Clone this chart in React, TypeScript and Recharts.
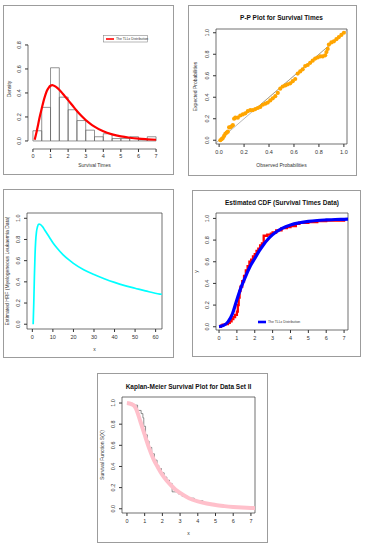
import {
  ComposedChart,
  Legend,
  Line,
  ReferenceArea,
  ReferenceLine,
  Scatter,
  XAxis,
  YAxis,
} from "recharts";

const FONT = '"Liberation Sans", Arial, Helvetica, sans-serif';
const INK = "#333";

// panel 1: histogram of survival times + fitted density
const histEdges = [0, 0.5, 1, 1.5, 2, 2.5, 3, 3.5, 4, 4.5, 5, 5.5, 6, 6.5, 7];
const histDensity = [0.085, 0.28, 0.61, 0.365, 0.26, 0.17, 0.09, 0.035, 0.06, 0.02, 0.02, 0.035, 0.01, 0.035];
const densX = [0.1, 0.2, 0.3, 0.4, 0.5, 0.6, 0.7, 0.8, 0.9, 1.0, 1.1, 1.2, 1.4, 1.6, 1.8, 2.0, 2.25, 2.5, 2.75, 3.0, 3.25, 3.5, 4.0, 4.5, 5.0, 5.5, 6.0, 6.5, 7.0];
const densY = [0.01, 0.07, 0.14, 0.21, 0.27, 0.33, 0.38, 0.42, 0.445, 0.46, 0.465, 0.46, 0.44, 0.41, 0.375, 0.34, 0.295, 0.25, 0.21, 0.175, 0.145, 0.12, 0.08, 0.055, 0.038, 0.027, 0.019, 0.014, 0.01];

// panel 2: P-P plot
const ppObs = [0.01, 0.02, 0.03, 0.04, 0.05, 0.06, 0.07, 0.08, 0.09, 0.1, 0.11, 0.12, 0.13, 0.15, 0.17, 0.19, 0.21, 0.23, 0.25, 0.27, 0.29, 0.31, 0.33, 0.35, 0.37, 0.39, 0.41, 0.43, 0.45, 0.47, 0.49, 0.51, 0.53, 0.55, 0.57, 0.59, 0.61, 0.63, 0.65, 0.67, 0.69, 0.71, 0.73, 0.75, 0.77, 0.79, 0.81, 0.83, 0.85, 0.86, 0.87, 0.88, 0.9, 0.92, 0.94, 0.96, 0.98, 1.0];
const ppExp = [0.0, 0.01, 0.02, 0.04, 0.06, 0.07, 0.08, 0.12, 0.12, 0.13, 0.14, 0.2, 0.21, 0.21, 0.23, 0.24, 0.25, 0.27, 0.28, 0.28, 0.29, 0.3, 0.31, 0.33, 0.34, 0.35, 0.37, 0.39, 0.41, 0.44, 0.48, 0.5, 0.51, 0.52, 0.53, 0.55, 0.57, 0.62, 0.64, 0.66, 0.69, 0.7, 0.72, 0.74, 0.76, 0.77, 0.78, 0.78, 0.79, 0.82, 0.85, 0.89, 0.91, 0.92, 0.94, 0.96, 0.98, 1.0];

// panel 3: estimated hazard rate
const hrfX = [0.4, 0.7, 1.0, 1.3, 1.6, 2.0, 2.5, 3.2, 4, 5, 6, 8, 10, 12, 15, 18, 20, 25, 30, 35, 40, 45, 50, 55, 62, 63];
const hrfY = [0, 0.2, 0.45, 0.65, 0.78, 0.87, 0.92, 0.945, 0.94, 0.92, 0.89, 0.83, 0.77, 0.72, 0.655, 0.605, 0.575, 0.515, 0.47, 0.43, 0.395, 0.365, 0.34, 0.315, 0.285, 0.283];

// panel 4: empirical vs fitted CDF
const ecdfX = [0, 0.1, 0.2, 0.35, 0.5, 0.6, 0.7, 0.8, 0.9, 1.0, 1.05, 1.1, 1.15, 1.2, 1.3, 1.4, 1.5, 1.6, 1.7, 1.8, 1.9, 2.0, 2.1, 2.2, 2.3, 2.4, 2.5, 2.7, 2.9, 3.0, 3.2, 3.5, 3.8, 4.0, 4.3, 4.5, 5.0, 5.5, 6.0, 7.0];
const ecdfY = [0, 0.01, 0.02, 0.025, 0.035, 0.05, 0.07, 0.09, 0.11, 0.14, 0.2, 0.27, 0.33, 0.37, 0.42, 0.47, 0.52, 0.56, 0.6, 0.62, 0.65, 0.67, 0.7, 0.72, 0.75, 0.77, 0.84, 0.85, 0.86, 0.87, 0.89, 0.91, 0.92, 0.93, 0.95, 0.96, 0.965, 0.975, 0.98, 0.985];
const cdfX = [0, 0.25, 0.5, 0.75, 1.0, 1.25, 1.5, 1.75, 2.0, 2.25, 2.5, 2.75, 3.0, 3.5, 4.0, 4.5, 5.0, 5.5, 6.0, 6.5, 7.0, 7.22];
const cdfY = [0, 0.012, 0.045, 0.12, 0.25, 0.37, 0.47, 0.56, 0.63, 0.7, 0.76, 0.81, 0.85, 0.905, 0.94, 0.96, 0.973, 0.981, 0.986, 0.99, 0.992, 0.993];

// panel 5: Kaplan-Meier vs fitted survival
const kmX = [0, 0.3, 0.6, 0.8, 0.9, 0.95, 1.05, 1.15, 1.25, 1.4, 1.55, 1.7, 1.8, 1.95, 2.1, 2.25, 2.4, 2.55, 2.9, 3.1, 3.4, 3.8, 4.3, 5.0, 5.8, 7.0];
const kmY = [1.0, 0.98, 0.93, 0.9, 0.86, 0.78, 0.7, 0.64, 0.58, 0.52, 0.46, 0.41, 0.38, 0.34, 0.3, 0.27, 0.24, 0.16, 0.14, 0.12, 0.1, 0.075, 0.05, 0.03, 0.02, 0.01];
const survX = [0, 0.25, 0.4, 0.5, 0.75, 1.0, 1.25, 1.5, 1.75, 2.0, 2.25, 2.5, 2.75, 3.0, 3.5, 4.0, 4.5, 5.0, 5.5, 6.0, 6.5, 7.0, 7.23];
const survY = [1.0, 0.99, 0.975, 0.95, 0.83, 0.7, 0.575, 0.47, 0.39, 0.32, 0.265, 0.22, 0.18, 0.15, 0.1, 0.07, 0.05, 0.035, 0.025, 0.017, 0.011, 0.007, 0.006];

// ticks
const ticks0to7 = [0, 1, 2, 3, 4, 5, 6, 7];
const ticksDensity = [0, 0.2, 0.4, 0.6, 0.8];
const ticksProb = [0, 0.2, 0.4, 0.6, 0.8, 1.0];
const ticksHrfX = [0, 10, 20, 30, 40, 50, 60];

const zip = (xs: number[], ys: number[]) => xs.map((x, i) => ({ x, y: ys[i] }));

const tickStyle = { fontSize: 5.5, fill: INK, fontFamily: FONT };

function YTick(props: any) {
  const { x, y, payload } = props;
  return (
    <text
      x={x}
      y={y}
      transform={`rotate(-90 ${x} ${y})`}
      textAnchor="middle"
      fontSize={5.5}
      fill={INK}
      fontFamily={FONT}
    >
      {Number(payload.value).toFixed(1)}
    </text>
  );
}

const yTitle = (text: string, dx: number, dy = 0) => (props: any) => {
  const vb = props.viewBox;
  const cx = vb.x + dx;
  const cy = vb.y + vb.height / 2 + dy;
  return (
    <text
      x={cx}
      y={cy}
      transform={`rotate(-90 ${cx} ${cy})`}
      textAnchor="middle"
      fontSize={5}
      fill={INK}
      fontFamily={FONT}
    >
      {text}
    </text>
  );
};

const xTitle = (value: string, offset: number) => ({
  value,
  position: "insideBottom" as const,
  offset,
  fontSize: 5,
  fill: INK,
  fontFamily: FONT,
});

const boxTitle = (value: string, offset: number) => ({
  value,
  position: "top" as const,
  offset,
  fontSize: 6.5,
  fontWeight: "bold",
  fill: "#111",
  fontFamily: FONT,
});

function Frame({ left, top, width, height, children }: any) {
  return (
    <div
      style={{
        position: "absolute",
        left,
        top,
        width,
        height,
        boxSizing: "border-box",
        border: "1px solid #9c9c9c",
        background: "#fff",
      }}
    >
      <div style={{ position: "absolute", left: -1, top: -1 }}>{children}</div>
    </div>
  );
}

const legendLine = (color: string, width: number, boxed: boolean) => () => (
  <svg width={46} height={8} style={{ display: "block" }}>
    {boxed && <rect x={0.5} y={0.5} width={44} height={6.5} fill="#fff" stroke="#888" strokeWidth={0.6} />}
    <line x1={3} x2={11} y1={4} y2={4} stroke={color} strokeWidth={width} />
    <text x={13} y={5.3} fontSize={3.4} fill={INK} fontFamily={FONT}>
      The TLLx Distribution
    </text>
  </svg>
);

function HistPanel() {
  return (
    <Frame left={3} top={5} width={171} height={170}>
      <ComposedChart width={171} height={170} margin={{ top: 36, right: 13, bottom: 0, left: 0 }}>
        <XAxis
          type="number"
          dataKey="x"
          domain={[-0.28, 7.28]}
          ticks={ticks0to7}
          interval={0}
          allowDataOverflow
          height={26}
          axisLine={false}
          tickSize={3}
          tickMargin={2}
          tick={tickStyle}
          stroke={INK}
          label={xTitle("Survival Times", 8)}
        />
        <YAxis
          type="number"
          dataKey="y"
          domain={[-0.067, 0.833]}
          ticks={ticksDensity}
          interval={0}
          allowDataOverflow
          width={25}
          axisLine={false}
          tickSize={3}
          tickMargin={4}
          tick={<YTick />}
          stroke={INK}
          label={yTitle("Density", 8, -6)}
        />
        {histDensity.map((d, i) => (
          <ReferenceArea
            key={i}
            x1={histEdges[i]}
            x2={histEdges[i + 1]}
            y1={0}
            y2={d}
            fill="#fff"
            fillOpacity={0}
            stroke="#666"
            strokeWidth={0.7}
          />
        ))}
        <ReferenceLine segment={[{ x: 0, y: -0.067 }, { x: 7, y: -0.067 }]} stroke={INK} strokeWidth={0.7} ifOverflow="visible" />
        <ReferenceLine segment={[{ x: -0.28, y: 0 }, { x: -0.28, y: 0.8 }]} stroke={INK} strokeWidth={0.7} ifOverflow="visible" />
        <Line
          data={zip(densX, densY)}
          dataKey="y"
          type="monotone"
          stroke="#ff0000"
          strokeWidth={2.2}
          dot={false}
          name="The TLLx Distribution"
          isAnimationActive={false}
        />
        <Legend
          layout="vertical"
          align="center"
          verticalAlign="middle"
          content={legendLine("#ff0000", 1.6, true)}
          wrapperStyle={{ left: 100, top: 30, width: 46, height: 8 }}
        />
      </ComposedChart>
    </Frame>
  );
}

function PPPanel() {
  const dom: [number, number] = [-0.025, 1.025];
  const ydom: [number, number] = [-0.035, 1.035];
  return (
    <Frame left={188} top={5} width={169} height={171}>
      <ComposedChart width={169} height={171} margin={{ top: 24, right: 10, bottom: 0, left: 0 }}>
        <XAxis
          type="number"
          dataKey="x"
          domain={dom}
          ticks={ticksProb}
          interval={0}
          allowDataOverflow
          height={32}
          axisLine={false}
          tickSize={3}
          tickMargin={3}
          tick={tickStyle}
          tickFormatter={(v) => v.toFixed(1)}
          stroke={INK}
          label={xTitle("Observed Probabilities", 9)}
        />
        <YAxis
          type="number"
          dataKey="y"
          domain={ydom}
          ticks={ticksProb}
          interval={0}
          allowDataOverflow
          width={28}
          axisLine={false}
          tickSize={3}
          tickMargin={4}
          tick={<YTick />}
          stroke={INK}
          label={yTitle("Expected Probabilities", 9)}
        />
        <ReferenceArea
          x1={dom[0]}
          x2={dom[1]}
          y1={ydom[0]}
          y2={ydom[1]}
          fillOpacity={0}
          stroke={INK}
          strokeWidth={0.7}
          label={boxTitle("P-P Plot for Survival Times", 9)}
        />
        <ReferenceLine segment={[{ x: -0.025, y: -0.025 }, { x: 1.025, y: 1.025 }]} stroke="#999" strokeWidth={0.7} />
        <Scatter
          data={zip(ppObs, ppExp)}
          dataKey="y"
          isAnimationActive={false}
          shape={(p: any) => <circle cx={p.cx} cy={p.cy} r={2.1} fill="#ffa500" />}
        />
        <ReferenceLine segment={[{ x: 0.3, y: 0.3 }, { x: 1.0, y: 1.0 }]} stroke="#7a5a10" strokeWidth={0.5} strokeOpacity={0.6} />
      </ComposedChart>
    </Frame>
  );
}

function HrfPanel() {
  const dom: [number, number] = [-2.6, 63.1];
  const ydom: [number, number] = [-0.045, 1.05];
  return (
    <Frame left={3} top={189} width={171} height={169}>
      <ComposedChart width={171} height={169} margin={{ top: 24, right: 12, bottom: 0, left: 0 }}>
        <XAxis
          type="number"
          dataKey="x"
          domain={dom}
          ticks={ticksHrfX}
          interval={0}
          allowDataOverflow
          height={29}
          axisLine={false}
          tickSize={3}
          tickMargin={3}
          tick={tickStyle}
          stroke={INK}
          label={xTitle("x", 7)}
        />
        <YAxis
          type="number"
          dataKey="y"
          domain={ydom}
          ticks={ticksProb}
          interval={0}
          allowDataOverflow
          width={24}
          axisLine={false}
          tickSize={3}
          tickMargin={4}
          tick={<YTick />}
          stroke={INK}
          label={yTitle("Estimated HRF (Myelogeneous Leukaemia Data)", 6)}
        />
        <ReferenceArea x1={dom[0]} x2={dom[1]} y1={ydom[0]} y2={ydom[1]} fillOpacity={0} stroke={INK} strokeWidth={0.7} />
        <Line
          data={zip(hrfX, hrfY)}
          dataKey="y"
          type="monotone"
          stroke="#00ffff"
          strokeWidth={1.7}
          dot={false}
          isAnimationActive={false}
        />
      </ComposedChart>
    </Frame>
  );
}

function CdfPanel() {
  const dom: [number, number] = [-0.17, 7.22];
  const ydom: [number, number] = [-0.03, 1.05];
  return (
    <Frame left={192} top={190} width={169} height={167}>
      <ComposedChart width={169} height={167} margin={{ top: 23, right: 13, bottom: 0, left: 0 }}>
        <XAxis
          type="number"
          dataKey="x"
          domain={dom}
          ticks={ticks0to7}
          interval={0}
          allowDataOverflow
          height={27}
          axisLine={false}
          tickSize={3}
          tickMargin={3}
          tick={tickStyle}
          stroke={INK}
        />
        <YAxis
          type="number"
          dataKey="y"
          domain={ydom}
          ticks={ticksProb}
          interval={0}
          allowDataOverflow
          width={24}
          axisLine={false}
          tickSize={3}
          tickMargin={4}
          tick={<YTick />}
          stroke={INK}
          label={yTitle("y", 6)}
        />
        <ReferenceArea
          x1={dom[0]}
          x2={dom[1]}
          y1={ydom[0]}
          y2={ydom[1]}
          fillOpacity={0}
          stroke={INK}
          strokeWidth={0.7}
          label={boxTitle("Estimated CDF (Survival Times Data)", 8)}
        />
        <Line
          data={zip(ecdfX, ecdfY)}
          dataKey="y"
          type="stepAfter"
          stroke="#ff0000"
          strokeWidth={2.3}
          dot={false}
          isAnimationActive={false}
        />
        <Line
          data={zip(cdfX, cdfY)}
          dataKey="y"
          type="monotone"
          stroke="#0000ff"
          strokeWidth={3.2}
          dot={false}
          name="The TLLx Distribution"
          isAnimationActive={false}
        />
        <Legend
          layout="vertical"
          align="center"
          verticalAlign="middle"
          content={legendLine("#0000ff", 2.6, false)}
          wrapperStyle={{ left: 63, top: 128, width: 46, height: 8 }}
        />
      </ComposedChart>
    </Frame>
  );
}

function KmPanel() {
  const dom: [number, number] = [-0.28, 7.23];
  const ydom: [number, number] = [-0.04, 1.057];
  return (
    <Frame left={97} top={373} width={171} height={170}>
      <ComposedChart width={171} height={170} margin={{ top: 24, right: 13, bottom: 0, left: 0 }}>
        <XAxis
          type="number"
          dataKey="x"
          domain={dom}
          ticks={ticks0to7}
          interval={0}
          allowDataOverflow
          height={30}
          axisLine={false}
          tickSize={3}
          tickMargin={3}
          tick={tickStyle}
          stroke={INK}
          label={xTitle("x", 8)}
        />
        <YAxis
          type="number"
          dataKey="y"
          domain={ydom}
          ticks={ticksProb}
          interval={0}
          allowDataOverflow
          width={25}
          axisLine={false}
          tickSize={3}
          tickMargin={4}
          tick={<YTick />}
          stroke={INK}
          label={yTitle("Survival  Function S(X)", 7)}
        />
        <ReferenceArea
          x1={dom[0]}
          x2={dom[1]}
          y1={ydom[0]}
          y2={ydom[1]}
          fillOpacity={0}
          stroke={INK}
          strokeWidth={0.7}
          label={boxTitle("Kaplan-Meier Survival Plot for Data Set II", 8)}
        />
        <Line
          data={zip(kmX, kmY)}
          dataKey="y"
          type="stepAfter"
          stroke="#444"
          strokeWidth={0.6}
          dot={false}
          isAnimationActive={false}
        />
        <Line
          data={zip(survX, survY)}
          dataKey="y"
          type="monotone"
          stroke="#ffc0cb"
          strokeWidth={4}
          dot={false}
          isAnimationActive={false}
        />
      </ComposedChart>
    </Frame>
  );
}

export default function App() {
  return (
    <div
      style={{
        position: "absolute",
        left: 0,
        top: 0,
        width: 368,
        height: 550,
        background: "#fff",
        fontFamily: FONT,
      }}
    >
      <HistPanel />
      <PPPanel />
      <HrfPanel />
      <CdfPanel />
      <KmPanel />
    </div>
  );
}
